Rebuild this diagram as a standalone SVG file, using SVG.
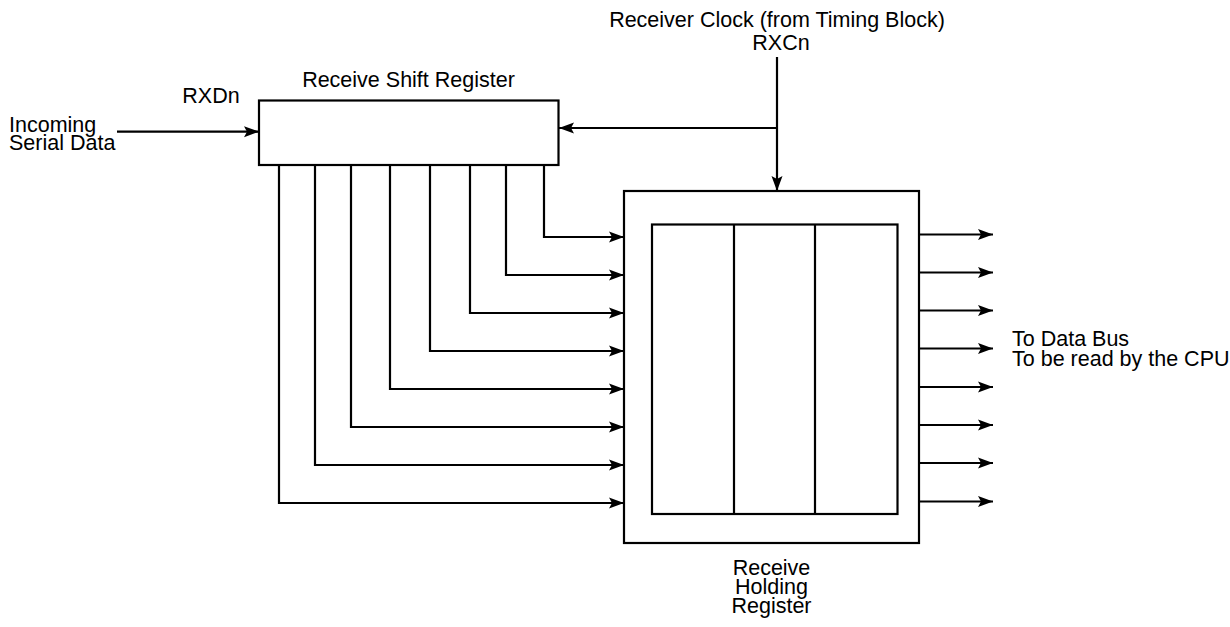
<svg xmlns="http://www.w3.org/2000/svg" width="1230" height="627" viewBox="0 0 1230 627">
<defs>
<marker id="ah" markerUnits="userSpaceOnUse" markerWidth="16" markerHeight="12" refX="15" refY="5.5" orient="auto" overflow="visible">
<path d="M0,0 L15,5.5 L0,11 L3,5.5 Z" fill="#000"/>
</marker>
</defs>
<style>
.ln{fill:none;stroke:#000;stroke-width:2.2}
.bx{fill:#fff;stroke:#000;stroke-width:2.2}
.ar{fill:none;stroke:#000;stroke-width:2.2;marker-end:url(#ah)}
text{font-family:"Liberation Sans",Arial,Helvetica,sans-serif;font-size:21.5px;fill:#000}
.c{text-anchor:middle}
</style>
<rect width="1230" height="627" fill="#fff"/>
<g id="connectors">
<path class="ar" d="M117,131.7 H259"/>
<path class="ln" d="M777,57 V128"/>
<path class="ar" d="M777,128 H559"/>
<path class="ar" d="M777,128 V191"/>
<path class="ar" d="M544,165 V237 H624"/>
<path class="ar" d="M506,165 V275 H624"/>
<path class="ar" d="M470,165 V313 H624"/>
<path class="ar" d="M430,165 V351 H624"/>
<path class="ar" d="M390,165 V389 H624"/>
<path class="ar" d="M351,165 V427 H624"/>
<path class="ar" d="M315,165 V465 H624"/>
<path class="ar" d="M279,165 V503 H624"/>
<path class="ar" d="M919,234.5 H993"/>
<path class="ar" d="M919,272.5 H993"/>
<path class="ar" d="M919,310.5 H993"/>
<path class="ar" d="M919,348.5 H993"/>
<path class="ar" d="M919,387 H993"/>
<path class="ar" d="M919,425 H993"/>
<path class="ar" d="M919,463 H993"/>
<path class="ar" d="M919,501.5 H993"/>
</g>
<g id="shift-register">
<rect class="bx" x="259" y="100.5" width="299.5" height="64.5"/>
<text class="c" x="408.5" y="86.5">Receive Shift Register</text>
</g>
<g id="holding-register">
<rect class="bx" x="624" y="191" width="295" height="352"/>
<rect class="bx" x="652" y="224.5" width="245.5" height="289.5"/>
<path class="ln" d="M734,224.5 V514 M815,224.5 V514"/>
<text class="c" x="771.5" y="575">Receive</text>
<text class="c" x="771.5" y="594">Holding</text>
<text class="c" x="771.5" y="613">Register</text>
</g>
<g id="labels">
<text x="9" y="131.5">Incoming</text>
<text x="9" y="149.5">Serial Data</text>
<text class="c" x="211" y="102.5">RXDn</text>
<text class="c" x="777" y="27">Receiver Clock (from Timing Block)</text>
<text class="c" x="781" y="50">RXCn</text>
<text x="1012" y="346">To Data Bus</text>
<text x="1012" y="365.5">To be read by the CPU</text>
</g>
</svg>
